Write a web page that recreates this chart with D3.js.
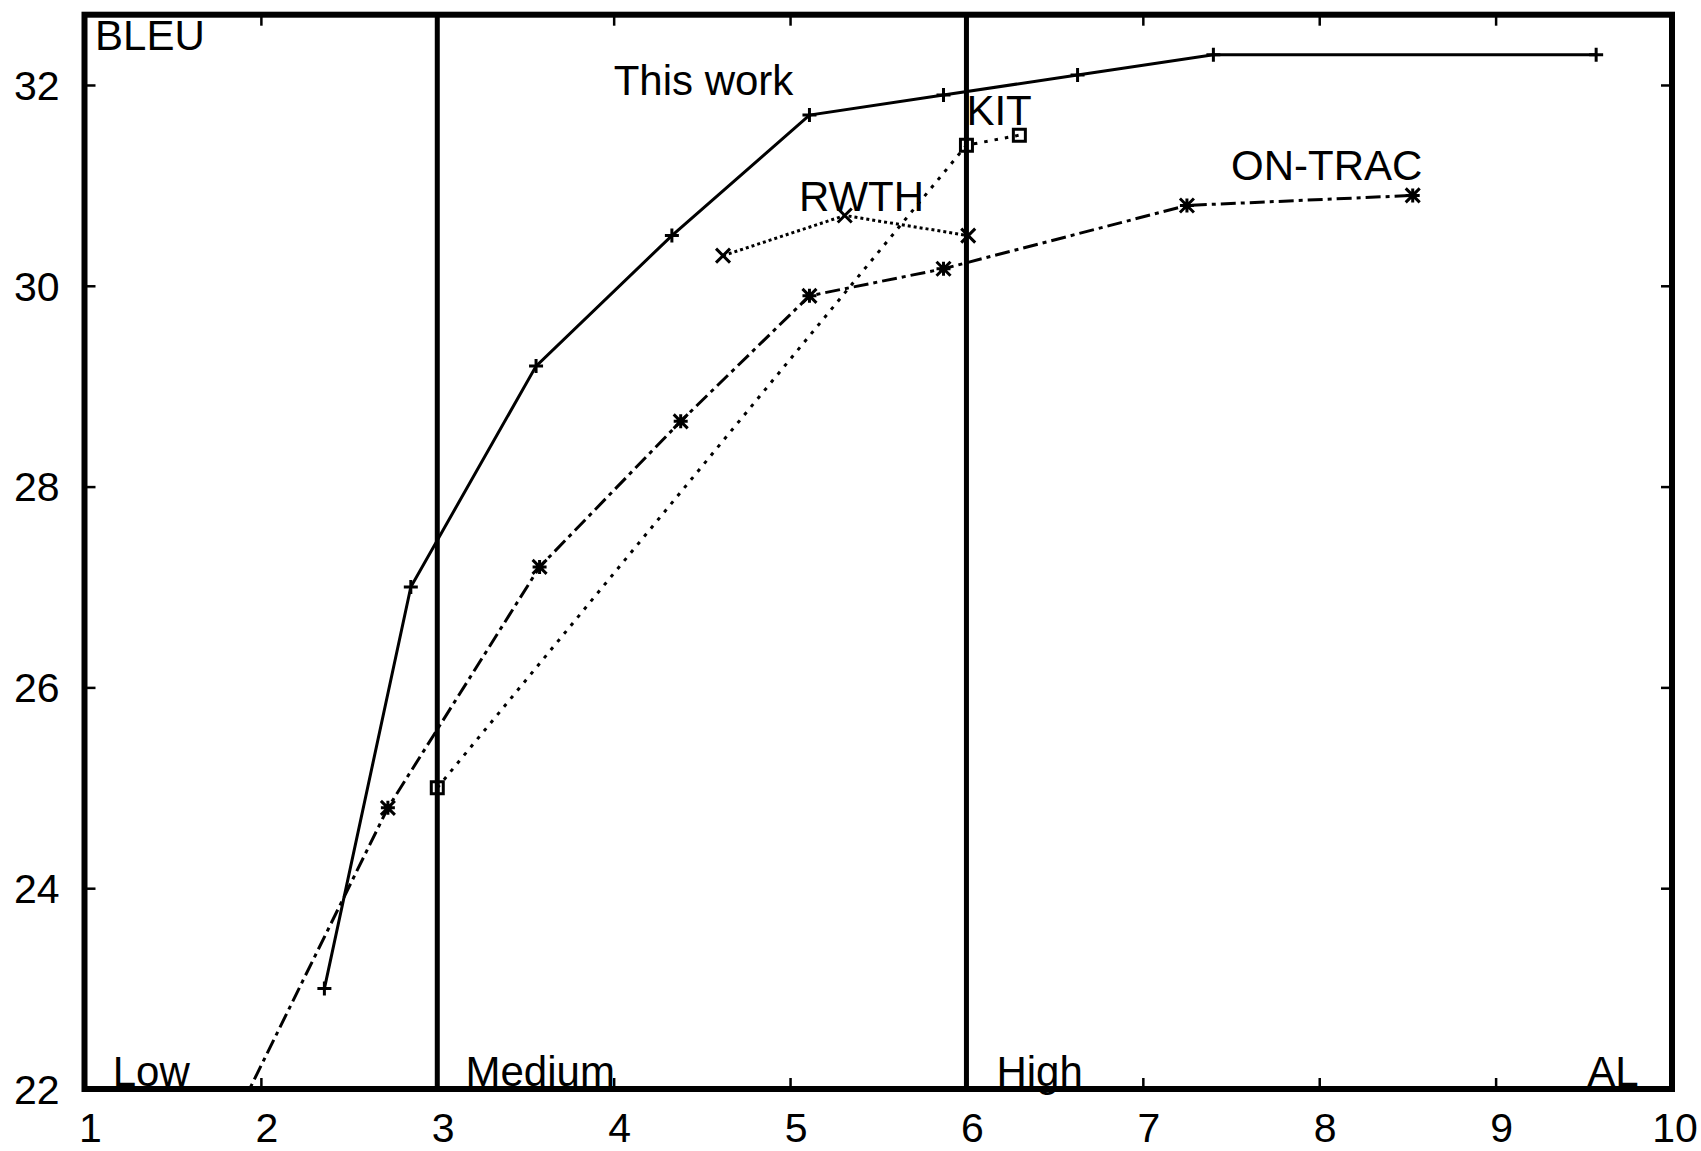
<!DOCTYPE html>
<html>
<head>
<meta charset="utf-8">
<script src="https://cdn.jsdelivr.net/npm/d3@7"></script>
<style>
  body { margin: 0; background: #fff; }
  svg { display: block; }
  text { font-family: "Liberation Sans", Arial, sans-serif; fill: #000; }
</style>
</head>
<body>
<svg id="drawing_region"></svg>
<script>
// tick values
const xTicks = [1, 2, 3, 4, 5, 6, 7, 8, 9, 10];
const yTicks = [22, 24, 26, 28, 30, 32];
const boundaries = [3, 6];

// series
const thisWorkX = [2.36, 2.85, 3.56, 4.33, 5.11, 5.87, 6.63, 7.40, 9.57];
const thisWorkY = [23.0, 27.0, 29.2, 30.5, 31.7, 31.9, 32.1, 32.3, 32.3];

const kitX = [3.0, 6.0, 6.3];
const kitY = [25.0, 31.4, 31.5];

const rwthX = [4.62, 5.31, 6.01];
const rwthY = [30.3, 30.7, 30.5];

const onTracX = [1.6, 2.72, 3.58, 4.38, 5.11, 5.87, 7.25, 8.53];
const onTracY = [20.8, 24.8, 27.2, 28.65, 29.9, 30.17, 30.8, 30.9];

// text labels placed in data units
const labelText = ["BLEU", "This work", "KIT", "RWTH", "ON-TRAC", "Low", "Medium", "High", "AL"];
const labelX = [1.06, 4.0, 6.0, 5.05, 7.5, 1.16, 3.16, 6.17, 9.52];
const labelY = [32.5, 32.05, 31.75, 30.9, 31.2, 22.18, 22.18, 22.18, 22.18];

const series = [
    { name: "This work", x: thisWorkX, y: thisWorkY, dash: null, marker: "plus" },
    { name: "KIT", x: kitX, y: kitY, dash: "3.5,7", marker: "square" },
    { name: "RWTH", x: rwthX, y: rwthY, dash: "3,3", marker: "cross" },
    { name: "ON-TRAC", x: onTracX, y: onTracY, dash: "15,5,4,5", marker: "star" }
];

const config = {
    width: 1701,
    height: 1151,
    plot: { left: 84.5, right: 1672, top: 14.7, bottom: 1089 }
};
const P = config.plot;

const svg = d3.select('#drawing_region')
    .attr('width', config.width)
    .attr('height', config.height);

svg.append('rect').attr('width', config.width).attr('height', config.height).attr('fill', '#fff');

const xscale = d3.scaleLinear().domain([1, 10]).range([P.left, P.right]);
const yscale = d3.scaleLinear().domain([22, 32.7]).range([P.bottom, P.top]);

svg.append('clipPath').attr('id', 'plot_clip')
    .append('rect')
    .attr('x', P.left).attr('y', P.top)
    .attr('width', P.right - P.left).attr('height', P.bottom - P.top);

// ticks pointing inward on all four sides
const tickLen = 11;
const axisB = d3.axisBottom(xscale).tickValues(xTicks).tickSize(tickLen).tickFormat('');
const axisT = d3.axisTop(xscale).tickValues(xTicks).tickSize(tickLen).tickFormat('');
const axisL = d3.axisLeft(yscale).tickValues(yTicks).tickSize(tickLen).tickFormat('');
const axisR = d3.axisRight(yscale).tickValues(yTicks).tickSize(tickLen).tickFormat('');

function styleAxis(g) {
    g.select('.domain').remove();
    g.selectAll('line').attr('stroke', '#000').attr('stroke-width', 2.5);
}

svg.append('g').attr('transform', `translate(0, ${P.bottom - tickLen})`).call(axisB).call(styleAxis);
svg.append('g').attr('transform', `translate(0, ${P.top + tickLen})`).call(axisT).call(styleAxis);
svg.append('g').attr('transform', `translate(${P.left + tickLen}, 0)`).call(axisL).call(styleAxis);
svg.append('g').attr('transform', `translate(${P.right - tickLen}, 0)`).call(axisR).call(styleAxis);

// tick labels
svg.append('g').selectAll('text').data(xTicks).join('text')
    .attr('x', d => Math.min(xscale(d) + 6, config.width - 26))
    .attr('y', 1127)
    .attr('dy', '0.36em')
    .attr('text-anchor', 'middle')
    .attr('font-size', 41)
    .text(d => d);

svg.append('g').selectAll('text').data(yTicks).join('text')
    .attr('x', P.left - 25)
    .attr('y', d => yscale(d))
    .attr('dy', '0.36em')
    .attr('text-anchor', 'end')
    .attr('font-size', 41)
    .text(d => d);

// boundary lines between Low / Medium / High
svg.append('g').selectAll('line').data(boundaries).join('line')
    .attr('x1', d => xscale(d)).attr('x2', d => xscale(d))
    .attr('y1', P.top).attr('y2', P.bottom)
    .attr('stroke', '#000').attr('stroke-width', 5);

// series lines
const line = d3.line().x(d => xscale(d[0])).y(d => yscale(d[1]));
const plot = svg.append('g').attr('clip-path', 'url(#plot_clip)');

const m = 7;
const shapes = {
    plus: `M${-m},0H${m}M0,${-m}V${m}`,
    cross: `M${-m},${-m}L${m},${m}M${-m},${m}L${m},${-m}`,
    star: `M${-m},0H${m}M0,${-m}V${m}M${-m},${-m}L${m},${m}M${-m},${m}L${m},${-m}`,
    square: `M${-m + 1},${-m + 1}H${m - 1}V${m - 1}H${-m + 1}Z`
};

series.forEach(s => {
    const pts = s.x.map((v, i) => [v, s.y[i]]);
    plot.append('path')
        .datum(pts)
        .attr('d', line)
        .attr('fill', 'none')
        .attr('stroke', '#000')
        .attr('stroke-width', 3)
        .attr('stroke-dasharray', s.dash);

    plot.append('g').selectAll('path').data(pts).join('path')
        .attr('transform', d => `translate(${xscale(d[0])}, ${yscale(d[1])})`)
        .attr('d', shapes[s.marker])
        .attr('fill', 'none')
        .attr('stroke', '#000')
        .attr('stroke-width', 3);
});

// annotations
svg.append('g').selectAll('text').data(labelText).join('text')
    .attr('x', (d, i) => xscale(labelX[i]))
    .attr('y', (d, i) => yscale(labelY[i]))
    .attr('dy', '0.36em')
    .attr('font-size', 42)
    .text(d => d);

// frame
svg.append('rect')
    .attr('x', P.left).attr('y', P.top)
    .attr('width', P.right - P.left).attr('height', P.bottom - P.top)
    .attr('fill', 'none')
    .attr('stroke', '#000')
    .attr('stroke-width', 6);
</script>
</body>
</html>
